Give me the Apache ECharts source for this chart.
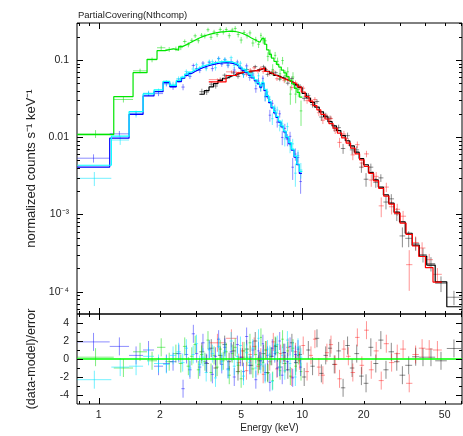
<!DOCTYPE html>
<html>
<head>
<meta charset="utf-8">
<script src="https://cdn.jsdelivr.net/npm/echarts@6/dist/echarts.min.js"></script>
<style>
  html, body { margin: 0; padding: 0; background: #fff; }
  #chart { width: 463px; height: 436px; }
</style>
</head>
<body>
<div id="chart"></div>
<script>
// axis ranges
const XMIN = 0.782, XMAX = 60.8;
const YMIN = 5.13e-5, YMAX = 0.3014;
const RMIN = -5, RMAX = 5;

// ticks and tick labels
const xMajorTicks = [1, 10];
const xMinorTicks = [0.8, 0.9, 2, 3, 4, 5, 6, 7, 8, 9, 20, 30, 40, 50, 60];
const xTickLabels = ['1', '2', '5', '10', '20', '50'];
const xTickLabelValues = [1, 2, 5, 10, 20, 50];
const yMajorTicks = [1e-4, 1e-3, 0.01, 0.1];
const yMinorMantissa = [2, 3, 4, 5, 6, 7, 8, 9];
const yTickLabels = ['10\u207B\u2074', '10\u207B\u00B3', '0.01', '0.1'];
const rMajorTicks = [-4, -2, 0, 2, 4];
const rMinorTicks = [-3, -1, 1, 3];
const rTickLabels = ['-4', '-2', '0', '2', '4'];

// black: bin edges (keV), model, (data-model)/error, relative error
const blackEdges = [3.12, 3.30, 3.48, 3.66, 3.85, 4.05, 4.26, 4.48, 4.71, 4.95,
  5.20, 5.46, 5.73, 6.01, 6.30, 6.60, 6.91, 7.23, 7.57, 7.92,
  8.29, 8.68, 9.09, 9.52, 9.97, 10.45, 10.95, 11.5, 12.1, 12.7,
  13.35, 14.0, 14.7, 15.45, 16.25, 17.1, 18.0, 19.0, 20.0, 21.1,
  22.3, 23.6, 25.0, 26.5, 28.2, 30.0, 32.0, 34.6, 37.5, 40.8,
  44.9, 51.2, 60.2];
const blackModel = [0.0360, 0.0400, 0.0448, 0.0495, 0.0540, 0.0580, 0.0615, 0.0645, 0.0670, 0.0690,
  0.0706, 0.0720, 0.0733, 0.0755, 0.0790, 0.0715, 0.0672, 0.0632, 0.0598, 0.0568,
  0.0540, 0.0512, 0.0480, 0.0440, 0.0370, 0.0322, 0.0282, 0.0245, 0.0213, 0.0184,
  0.0159, 0.0140, 0.0122, 0.0105, 0.0090, 0.0077, 0.0064, 0.0053, 0.0044, 0.0035,
  0.0028, 0.00226, 0.00179, 0.00140, 0.00107, 0.00080, 0.00057, 0.00040, 0.000289, 0.000221,
  0.000134, 0.0000637];
const blackResid = [0.8, -0.5, 1.2, -1.0, 0.4, 1.6, -0.3, 0.9, -1.4, 0.2,
  1.1, -0.7, 2.0, -0.2, 0.6, -1.5, 0.3, 1.4, -0.9, 0.7,
  -1.2, 1.8, -0.4, 0.5, -2.0, 1.0, -0.8, 2.3, -1.6, 0.4,
  1.2, -0.6, 0.9, -3.2, 1.5, -1.0, 0.6, -1.9, -2.7, 1.3,
  -0.5, 2.1, -1.2, 0.8, -0.3, -1.8, -0.7, 0.25, 0.2, 0.2,
  -0.2, 1.17];
const blackErr = [0.10, 0.08, 0.07, 0.07, 0.07, 0.06, 0.06, 0.06, 0.06, 0.06,
  0.06, 0.06, 0.06, 0.06, 0.06, 0.06, 0.06, 0.06, 0.06, 0.06,
  0.06, 0.07, 0.07, 0.07, 0.07, 0.08, 0.08, 0.08, 0.09, 0.09,
  0.09, 0.10, 0.10, 0.10, 0.11, 0.11, 0.12, 0.12, 0.13, 0.13,
  0.14, 0.15, 0.16, 0.17, 0.18, 0.19, 0.20, 0.21, 0.22, 0.22,
  0.22, 0.28];

// red
const redEdges = [3.47, 4.22, 4.76, 4.98, 5.20, 5.43, 5.67, 5.93, 6.18, 6.32,
  6.52, 6.78, 7.05, 7.35, 7.66, 7.98, 8.32, 8.68, 9.06, 9.46,
  9.88, 10.32, 10.78, 11.27, 11.78, 12.32, 12.9, 13.5, 14.15, 14.85,
  15.6, 16.4, 17.25, 18.15, 19.1, 20.1, 21.2, 22.4, 23.7, 25.1,
  26.6, 28.3, 30.2, 32.3, 34.7, 37.3, 40.2, 43.8, 48.4];
const redModel = [0.0520, 0.0630, 0.0680, 0.0695, 0.0708, 0.0720, 0.0730, 0.0748, 0.0775, 0.0790,
  0.0710, 0.0678, 0.0645, 0.0612, 0.0585, 0.0560, 0.0537, 0.0512, 0.0483, 0.0448,
  0.0385, 0.0335, 0.0293, 0.0257, 0.0226, 0.0198, 0.0172, 0.0150, 0.0131, 0.0113,
  0.0098, 0.0084, 0.0072, 0.0061, 0.0051, 0.0042, 0.0034, 0.00272, 0.00218, 0.00173,
  0.00136, 0.00104, 0.00077, 0.00055, 0.00039, 0.000285, 0.000205, 0.000133];
const redResid = [1.8, 2.3, -0.4, 0.9, -1.3, 0.5, 1.4, -0.8, 0.2, -1.7,
  1.0, -0.3, 1.9, -1.1, 0.6, -0.5, 1.3, -2.0, 0.8, -0.2,
  1.5, -1.4, 0.4, 2.2, -0.9, -1.8, 0.7, 1.6, -0.6, -2.2,
  1.1, 0.3, -1.5, 2.4, -0.7, 3.2, -1.2, 0.9, -2.4, 1.7,
  -0.4, 0.6, 1.1, -2.7, 0.5, 1.2, 1.1, 1.0];
const redErr = [0.04, 0.05, 0.06, 0.06, 0.06, 0.06, 0.06, 0.06, 0.06, 0.06,
  0.06, 0.06, 0.06, 0.06, 0.06, 0.07, 0.07, 0.07, 0.07, 0.07,
  0.08, 0.08, 0.08, 0.09, 0.09, 0.09, 0.10, 0.10, 0.10, 0.11,
  0.11, 0.12, 0.12, 0.13, 0.13, 0.14, 0.15, 0.16, 0.17, 0.18,
  0.19, 0.20, 0.21, 0.22, 0.22, 0.24, 0.24, 0.26];

// green
const greenEdges = [0.785, 1.185, 1.474, 1.727, 1.933, 2.124, 2.317, 2.47, 2.59, 2.70,
  2.81, 2.92, 3.03, 3.14, 3.26, 3.38, 3.50, 3.62, 3.75, 3.88,
  4.02, 4.16, 4.30, 4.45, 4.60, 4.76, 4.92, 5.09, 5.26, 5.44,
  5.62, 5.81, 6.00, 6.19, 6.33, 6.50, 6.68, 6.86, 7.05, 7.25,
  7.45, 7.66, 7.88, 8.11, 8.35, 8.60, 8.86, 9.13, 9.41, 9.70,
  10.0];
const greenModel = [0.0108, 0.0335, 0.0685, 0.102, 0.132, 0.140, 0.134, 0.150, 0.158, 0.167,
  0.176, 0.185, 0.194, 0.202, 0.209, 0.215, 0.220, 0.224, 0.228, 0.231,
  0.233, 0.235, 0.236, 0.235, 0.232, 0.227, 0.220, 0.212, 0.203, 0.193,
  0.184, 0.176, 0.170, 0.168, 0.190, 0.160, 0.135, 0.118, 0.106, 0.096,
  0.088, 0.081, 0.074, 0.068, 0.061, 0.055, 0.049, 0.043, 0.038, 0.033];
const greenResid = [0.2, -1.0, 0.8, -0.2, 1.3, -0.3, 0.6, -0.5, 1.4, -0.8,
  0.3, 1.6, -1.2, 0.5, -0.3, 2.1, -1.5, 0.4, -0.9, 1.1,
  -0.2, 0.8, -1.8, 0.6, 1.3, -0.7, -2.2, 0.9, 0.2, 1.8,
  -1.1, 0.5, -0.6, 2.4, -0.4, 1.0, -1.6, 0.3, -2.4, 1.5,
  0.7, -1.3, 2.2, -0.5, 0.9, -1.9, 1.2, -0.8, 0.4, -1.4];
const greenErr = [0.12, 0.08, 0.07, 0.07, 0.07, 0.07, 0.07, 0.07, 0.07, 0.07,
  0.07, 0.07, 0.07, 0.07, 0.07, 0.07, 0.07, 0.07, 0.07, 0.07,
  0.07, 0.07, 0.07, 0.07, 0.08, 0.08, 0.08, 0.08, 0.08, 0.09,
  0.09, 0.09, 0.10, 0.10, 0.10, 0.11, 0.11, 0.12, 0.12, 0.13,
  0.13, 0.14, 0.15, 0.16, 0.17, 0.18, 0.19, 0.20, 0.22, 0.24];

// blue
const blueEdges = [0.785, 1.132, 1.409, 1.651, 1.868, 2.069, 2.232, 2.405, 2.545, 2.645,
  2.75, 2.86, 2.97, 3.08, 3.19, 3.31, 3.43, 3.55, 3.68, 3.81,
  3.95, 4.09, 4.24, 4.39, 4.55, 4.71, 4.88, 5.05, 5.23, 5.42,
  5.61, 5.81, 6.01, 6.17, 6.32, 6.48, 6.65, 6.83, 7.02, 7.22,
  7.42, 7.63, 7.85, 8.08, 8.32, 8.57, 8.83, 9.10, 9.38, 9.66,
  9.95];
const blueModel = [0.0041, 0.0097, 0.0198, 0.0342, 0.0389, 0.0508, 0.0451, 0.0524, 0.058, 0.063,
  0.067, 0.071, 0.0745, 0.078, 0.081, 0.0835, 0.0858, 0.0878, 0.0895, 0.0908,
  0.0918, 0.0922, 0.0918, 0.0905, 0.0882, 0.0835, 0.0785, 0.0735, 0.0685, 0.0635,
  0.0585, 0.0535, 0.0490, 0.0445, 0.0495, 0.0400, 0.0335, 0.0280, 0.0240, 0.0207,
  0.0180, 0.0157, 0.0136, 0.0117, 0.0098, 0.0082, 0.0068, 0.0055, 0.0044, 0.0034];
const blueResid = [1.9, 1.4, 0.4, 1.0, -0.8, -0.5, -0.3, 0.6, -3.3, 0.5,
  -1.2, 2.8, 0.6, -0.9, 1.8, -0.4, 1.1, -1.7, 0.3, 2.2,
  -0.6, 1.3, -1.1, 0.8, -2.0, 1.6, 0.2, -1.4, 2.5, -0.7,
  1.0, -2.3, 0.9, -0.2, 1.7, -1.5, 0.4, -2.6, 1.2, 0.6,
  -1.0, 2.0, -1.8, 0.7, -0.3, 1.4, -2.1, 0.5, 1.1, -0.9];
const blueErr = [0.16, 0.10, 0.08, 0.07, 0.07, 0.07, 0.07, 0.07, 0.07, 0.07,
  0.07, 0.07, 0.07, 0.07, 0.07, 0.07, 0.07, 0.07, 0.07, 0.07,
  0.07, 0.07, 0.07, 0.07, 0.08, 0.08, 0.08, 0.08, 0.09, 0.09,
  0.09, 0.09, 0.10, 0.10, 0.10, 0.11, 0.11, 0.12, 0.12, 0.13,
  0.13, 0.14, 0.15, 0.16, 0.17, 0.18, 0.19, 0.20, 0.22, 0.24];

// cyan
const cyanEdges = [0.785, 1.153, 1.409, 1.651, 1.868, 2.069, 2.232, 2.405, 2.53, 2.64,
  2.745, 2.855, 2.965, 3.075, 3.19, 3.31, 3.43, 3.55, 3.68, 3.81,
  3.95, 4.09, 4.24, 4.39, 4.55, 4.71, 4.88, 5.05, 5.23, 5.42,
  5.61, 5.81, 6.01, 6.17, 6.32, 6.48, 6.65, 6.83, 7.02, 7.22,
  7.42, 7.63, 7.85, 8.08, 8.32, 8.57, 8.83, 9.10, 9.38, 9.66,
  10.0];
const cyanModel = [0.00433, 0.0103, 0.0214, 0.0363, 0.041, 0.053, 0.047, 0.0545, 0.060, 0.0655,
  0.0697, 0.0738, 0.0775, 0.081, 0.0842, 0.0868, 0.0892, 0.0912, 0.093, 0.0944,
  0.0954, 0.0958, 0.0954, 0.094, 0.0910, 0.0865, 0.0812, 0.0760, 0.0708, 0.0656,
  0.0605, 0.0555, 0.0508, 0.0462, 0.0512, 0.0418, 0.0345, 0.0290, 0.0248, 0.0214,
  0.0186, 0.0162, 0.0140, 0.0120, 0.0101, 0.0085, 0.0070, 0.0057, 0.0045, 0.0036];
const cyanResid = [-2.3, -0.9, -0.8, 0.3, -0.5, -0.6, 0.4, 0.8, -0.4, 1.2,
  -1.0, 0.5, 1.7, -0.6, 0.2, -1.5, 1.0, 0.6, -2.1, 1.4,
  -0.3, 0.9, -1.2, 2.0, -0.8, 0.3, 1.5, -1.9, 0.7, -0.4,
  1.2, -1.0, 2.3, -0.6, 0.1, -1.7, 1.1, 0.5, -2.5, 0.8,
  1.6, -0.9, 0.4, -1.3, 2.1, -0.5, 0.9, -2.0, 1.3, 0.2];
const cyanErr = [0.14, 0.12, 0.09, 0.08, 0.08, 0.08, 0.08, 0.07, 0.07, 0.07,
  0.07, 0.07, 0.07, 0.07, 0.07, 0.07, 0.07, 0.07, 0.07, 0.07,
  0.07, 0.07, 0.07, 0.07, 0.08, 0.08, 0.08, 0.08, 0.09, 0.09,
  0.09, 0.09, 0.10, 0.10, 0.10, 0.11, 0.11, 0.12, 0.12, 0.13,
  0.13, 0.14, 0.15, 0.16, 0.17, 0.18, 0.19, 0.20, 0.22, 0.24];

const FONT = "'Liberation Sans', Arial, sans-serif";
const TEXT = '#222';

const sets = [
  { edges: blackEdges, model: blackModel, resid: blackResid, err: blackErr, line: '#000000', pt: 'rgba(0,0,0,0.45)' },
  { edges: redEdges, model: redModel, resid: redResid, err: redErr, line: '#ff0000', pt: 'rgba(255,0,0,0.42)' },
  { edges: greenEdges, model: greenModel, resid: greenResid, err: greenErr, line: '#00e600', pt: 'rgba(0,220,0,0.5)' },
  { edges: blueEdges, model: blueModel, resid: blueResid, err: blueErr, line: '#0000ff', pt: 'rgba(0,0,255,0.45)' },
  { edges: cyanEdges, model: cyanModel, resid: cyanResid, err: cyanErr, line: '#00ffff', pt: 'rgba(0,230,255,0.55)' }
];

function topPoints(s) {
  return s.model.map(function (m, i) {
    var lo = s.edges[i], hi = s.edges[i + 1];
    var e = s.err[i] * m;
    var v = m + s.resid[i] * e;
    return [lo, hi, Math.sqrt(lo * hi), v, Math.max(v - e, 1e-7), v + e];
  });
}
function residPoints(s) {
  return s.resid.map(function (r, i) {
    var lo = s.edges[i], hi = s.edges[i + 1];
    return [lo, hi, Math.sqrt(lo * hi), r, r - 1, r + 1];
  });
}
function stepLine(s) {
  return s.edges.map(function (e, i) {
    return [e, s.model[Math.min(i, s.model.length - 1)]];
  });
}

function crossRender(color) {
  return function (params, api) {
    var a = api.coord([api.value(0), api.value(3)]);
    var b = api.coord([api.value(1), api.value(3)]);
    var c = api.coord([api.value(2), api.value(4)]);
    var d = api.coord([api.value(2), api.value(5)]);
    var st = { stroke: color, lineWidth: 1 };
    return {
      type: 'group',
      children: [
        { type: 'line', shape: { x1: a[0], y1: a[1], x2: b[0], y2: b[1] }, style: st },
        { type: 'line', shape: { x1: c[0], y1: c[1], x2: d[0], y2: d[1] }, style: st }
      ]
    };
  };
}

// tick items: [x, y, major, kind(0 = x tick, 1 = y tick)]
function tickRender(params, api) {
  var cs = params.coordSys;
  var len = api.value(2) ? 6 : 3;
  var st = { stroke: '#000', lineWidth: 1 };
  var p = api.coord([api.value(0), api.value(1)]);
  if (api.value(3) === 0) {
    var x = Math.round(p[0]) + 0.5, b = cs.y + cs.height, t = cs.y;
    return { type: 'group', children: [
      { type: 'line', shape: { x1: x, y1: b, x2: x, y2: b - len }, style: st },
      { type: 'line', shape: { x1: x, y1: t, x2: x, y2: t + len }, style: st }
    ] };
  }
  var y = Math.round(p[1]) + 0.5, l = cs.x, r = cs.x + cs.width;
  return { type: 'group', children: [
    { type: 'line', shape: { x1: l, y1: y, x2: l + len, y2: y }, style: st },
    { type: 'line', shape: { x1: r, y1: y, x2: r - len, y2: y }, style: st }
  ] };
}

// label items: [x, y, textIndex, kind]
function labelRender(texts) {
  return function (params, api) {
    var cs = params.coordSys;
    var p = api.coord([api.value(0), api.value(1)]);
    var t = texts[api.value(2)];
    if (api.value(3) === 0) {
      return { type: 'text', x: p[0], y: cs.y + cs.height + 6,
        style: { text: t, align: 'center', verticalAlign: 'top', fill: TEXT, fontSize: 10.5, fontFamily: FONT } };
    }
    return { type: 'text', x: cs.x - 8, y: p[1],
      style: { text: t, align: 'right', verticalAlign: 'middle', fill: TEXT, fontSize: 10.5, fontFamily: FONT } };
  };
}

var topTicks = [], resTicks = [];
xMajorTicks.forEach(function (v) { topTicks.push([v, YMIN, 1, 0]); resTicks.push([v, RMIN, 1, 0]); });
xMinorTicks.forEach(function (v) { topTicks.push([v, YMIN, 0, 0]); resTicks.push([v, RMIN, 0, 0]); });
yMajorTicks.forEach(function (v) {
  topTicks.push([XMIN, v, 1, 1]);
  yMinorMantissa.forEach(function (m) {
    var mv = m * v / 10;
    if (mv > YMIN && mv < YMAX) topTicks.push([XMIN, mv, 0, 1]);
    var mu = m * v;
    if (v === 0.1 && mu < YMAX) topTicks.push([XMIN, mu, 0, 1]);
  });
});
rMajorTicks.forEach(function (v) { resTicks.push([XMIN, v, 1, 1]); });
rMinorTicks.forEach(function (v) { resTicks.push([XMIN, v, 0, 1]); });

var topLabels = yMajorTicks.map(function (v, i) { return [XMIN, v, i, 1]; });
var resYLabels = rMajorTicks.map(function (v, i) { return [XMIN, v, i, 1]; });
var resXLabels = xTickLabelValues.map(function (v, i) { return [v, RMIN, i, 0]; });

var series = [];
sets.forEach(function (s) {
  series.push({ type: 'custom', xAxisIndex: 0, yAxisIndex: 0, clip: true, silent: true, z: 2,
    encode: { x: [0, 1, 2], y: [3, 4, 5] }, data: topPoints(s), renderItem: crossRender(s.pt) });
  series.push({ type: 'custom', xAxisIndex: 1, yAxisIndex: 1, clip: true, silent: true, z: 2,
    encode: { x: [0, 1, 2], y: [3, 4, 5] }, data: residPoints(s), renderItem: crossRender(s.pt) });
});
sets.forEach(function (s) {
  series.push({ type: 'line', xAxisIndex: 0, yAxisIndex: 0, step: 'end', showSymbol: false, z: 3,
    silent: true, data: stepLine(s), lineStyle: { color: s.line, width: 1.2 } });
});
series.push({ type: 'line', xAxisIndex: 1, yAxisIndex: 1, showSymbol: false, z: 4, silent: true,
  data: [[XMIN, 0], [XMAX, 0]], lineStyle: { color: '#00ff00', width: 1.5 } });
series.push({ type: 'custom', xAxisIndex: 0, yAxisIndex: 0, silent: true, z: 5,
  encode: { x: 0, y: 1 }, data: topTicks, renderItem: tickRender });
series.push({ type: 'custom', xAxisIndex: 1, yAxisIndex: 1, silent: true, z: 5,
  encode: { x: 0, y: 1 }, data: resTicks, renderItem: tickRender });
series.push({ type: 'custom', xAxisIndex: 0, yAxisIndex: 0, silent: true, z: 5,
  encode: { x: 0, y: 1 }, data: topLabels, renderItem: labelRender(yTickLabels) });
series.push({ type: 'custom', xAxisIndex: 1, yAxisIndex: 1, silent: true, z: 5,
  encode: { x: 0, y: 1 }, data: resYLabels, renderItem: labelRender(rTickLabels) });
series.push({ type: 'custom', xAxisIndex: 1, yAxisIndex: 1, silent: true, z: 5,
  encode: { x: 0, y: 1 }, data: resXLabels, renderItem: labelRender(xTickLabels) });

var hidden = { axisLine: { show: false }, axisTick: { show: false }, axisLabel: { show: false }, splitLine: { show: false } };

var chart = echarts.init(document.getElementById('chart'), null, { renderer: 'canvas' });
chart.setOption({
  animation: false,
  backgroundColor: '#ffffff',
  title: {
    text: 'PartialCovering(Nthcomp)', left: 78, top: 10, padding: 0,
    textStyle: { color: TEXT, fontSize: 9.5, fontWeight: 'normal', fontFamily: FONT }
  },
  grid: [
    { left: 77, top: 23, width: 385, height: 291, show: true, borderColor: '#000', borderWidth: 1 },
    { left: 77, top: 314, width: 385, height: 90, show: true, borderColor: '#000', borderWidth: 1 }
  ],
  xAxis: [
    Object.assign({ type: 'log', gridIndex: 0, min: XMIN, max: XMAX }, hidden),
    Object.assign({ type: 'log', gridIndex: 1, min: XMIN, max: XMAX, name: 'Energy (keV)',
      nameLocation: 'middle', nameGap: 19, nameTextStyle: { color: TEXT, fontSize: 10, fontFamily: FONT } }, hidden)
  ],
  yAxis: [
    Object.assign({ type: 'log', gridIndex: 0, min: YMIN, max: YMAX,
      name: 'normalized counts s\u207B\u00B9 keV\u207B\u00B9', nameLocation: 'middle', nameRotate: 90,
      nameGap: 39, nameTextStyle: { color: TEXT, fontSize: 13, fontFamily: FONT } }, hidden),
    Object.assign({ type: 'value', gridIndex: 1, min: RMIN, max: RMAX,
      name: '(data-model)/error', nameLocation: 'middle', nameRotate: 90,
      nameGap: 39, nameTextStyle: { color: TEXT, fontSize: 12.5, fontFamily: FONT } }, hidden)
  ],
  series: series
});
</script>
</body>
</html>
